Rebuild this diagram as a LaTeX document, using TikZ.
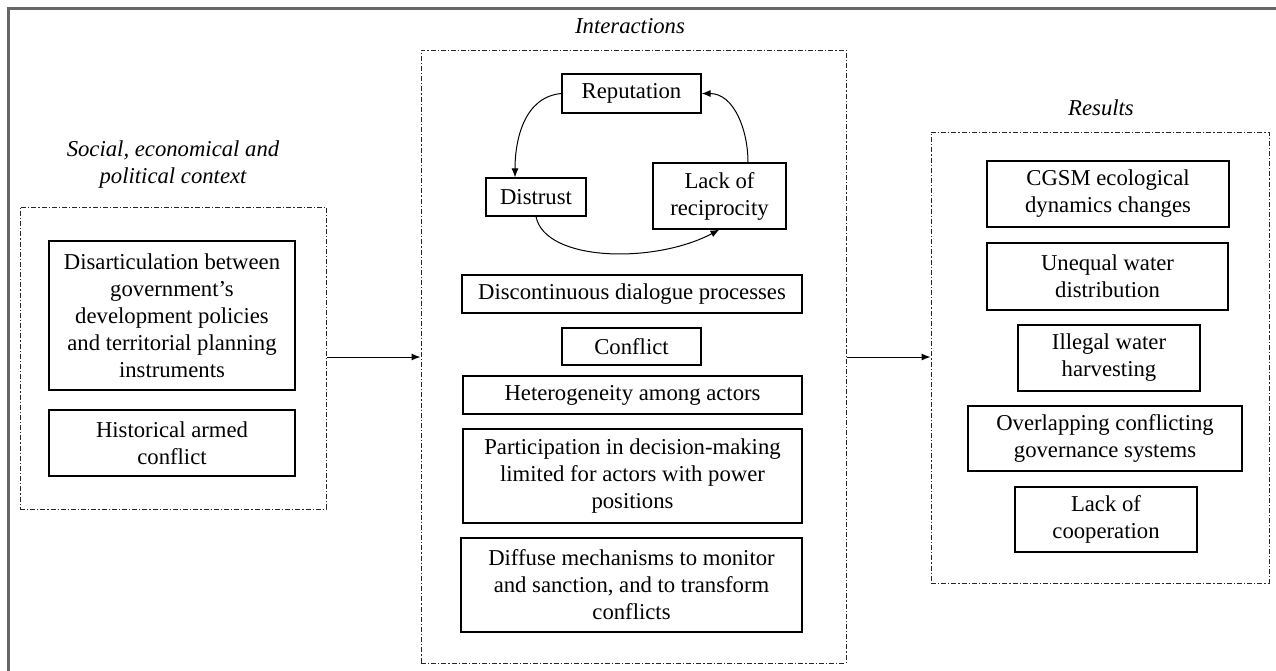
\documentclass[tikz,border=0pt]{standalone}
\usepackage{fontspec}
\setmainfont{Liberation Serif}
\usetikzlibrary{arrows.meta,calc}
\newcommand\bodyfs{\fontsize{22.7}{27}\selectfont}
\begin{document}
\begin{tikzpicture}[x=1pt,y=-1pt,
  box/.style={draw=black,line width=1.1pt,inner sep=0pt,align=center,font=\bodyfs},
  grp/.style={draw=black!85,line width=1pt,dash pattern=on 5pt off 2pt on 1.2pt off 2pt,inner sep=0pt},
  hdr/.style={align=center,font=\bodyfs\itshape,inner sep=0pt},
  arr/.style={line width=1pt,-{Latex[length=9pt,width=7pt]}},
  frame/.style={draw=black!60,line width=2.5pt}]
\useasboundingbox (0,0) rectangle (1276,670);
% outer frame (top and left edges)
\draw[frame] (8.5,672) -- (8.5,8.5) -- (1278,8.5);

% group boxes
\node[grp,minimum width=306pt,minimum height=302pt] (ctx) at (173,358) {};
\node[grp,minimum width=425pt,minimum height=613pt] (inter) at (633.5,356.5) {};
\node[grp,minimum width=338pt,minimum height=451pt] (res) at (1100,357.5) {};

% headers
\node[hdr] (hctx) at (173,165) {Social, economical and\\political context};
\node[hdr] (hint) at (630,26) {Interactions};
\node[hdr] (hres) at (1101,108) {Results};

% context boxes
\node[box,minimum width=246pt,minimum height=149pt] (dis) at (172,315.5)
  {Disarticulation between\\government’s\\development policies\\and territorial planning\\instruments};
\node[box,minimum width=246pt,minimum height=66pt] (hist) at (172,443)
  {Historical armed\\conflict};

% interaction boxes
\node[box,minimum width=139pt,minimum height=39pt] (rep) at (631.5,93.5) {Reputation};
\node[box,minimum width=100pt,minimum height=38pt] (dist) at (536,197) {Distrust};
\node[box,minimum width=133pt,minimum height=66pt] (lack) at (719.5,196) {Lack of\\reciprocity};
\node[box,minimum width=340pt,minimum height=38pt] (disc) at (632,294) {Discontinuous dialogue processes};
\node[box,minimum width=139pt,minimum height=37pt] (conf) at (631.5,346.5) {Conflict};
\node[box,minimum width=339pt,minimum height=38pt] (het) at (632.5,395) {Heterogeneity among actors};
\node[box,minimum width=339pt,minimum height=94pt] (part) at (632.5,476)
  {Participation in decision-making\\limited for actors with power\\positions};
\node[box,minimum width=341pt,minimum height=94pt] (diff) at (631.5,585)
  {Diffuse mechanisms to monitor\\and sanction, and to transform\\conflicts};

% results boxes
\node[box,minimum width=242pt,minimum height=66pt] (cgsm) at (1108,194) {CGSM ecological\\dynamics changes};
\node[box,minimum width=241pt,minimum height=67pt] (uneq) at (1107.5,276.5) {Unequal water\\distribution};
\node[box,minimum width=182pt,minimum height=66pt] (ill) at (1109,358) {Illegal water\\harvesting};
\node[box,minimum width=274pt,minimum height=65pt] (over) at (1105,438.5) {Overlapping conflicting\\governance systems};
\node[box,minimum width=182pt,minimum height=65pt] (coop) at (1106,519.5) {Lack of\\cooperation};

% cycle arrows
\draw[arr] (rep.west) to[out=185,in=90] ($(dist.north)+(-21,0)$);
\draw[arr] (dist.south) .. controls (545,262) and (655,264) .. (lack.south);
\draw[arr] ($(lack.north)+(28.5,0)$) to[out=90,in=0] (rep.east);

% flow arrows
\coordinate (mid) at (0,357);
\draw[arr] (ctx.east |- mid) -- (inter.west |- mid);
\draw[arr] (inter.east |- mid) -- (res.west |- mid);
\end{tikzpicture}
\end{document}
